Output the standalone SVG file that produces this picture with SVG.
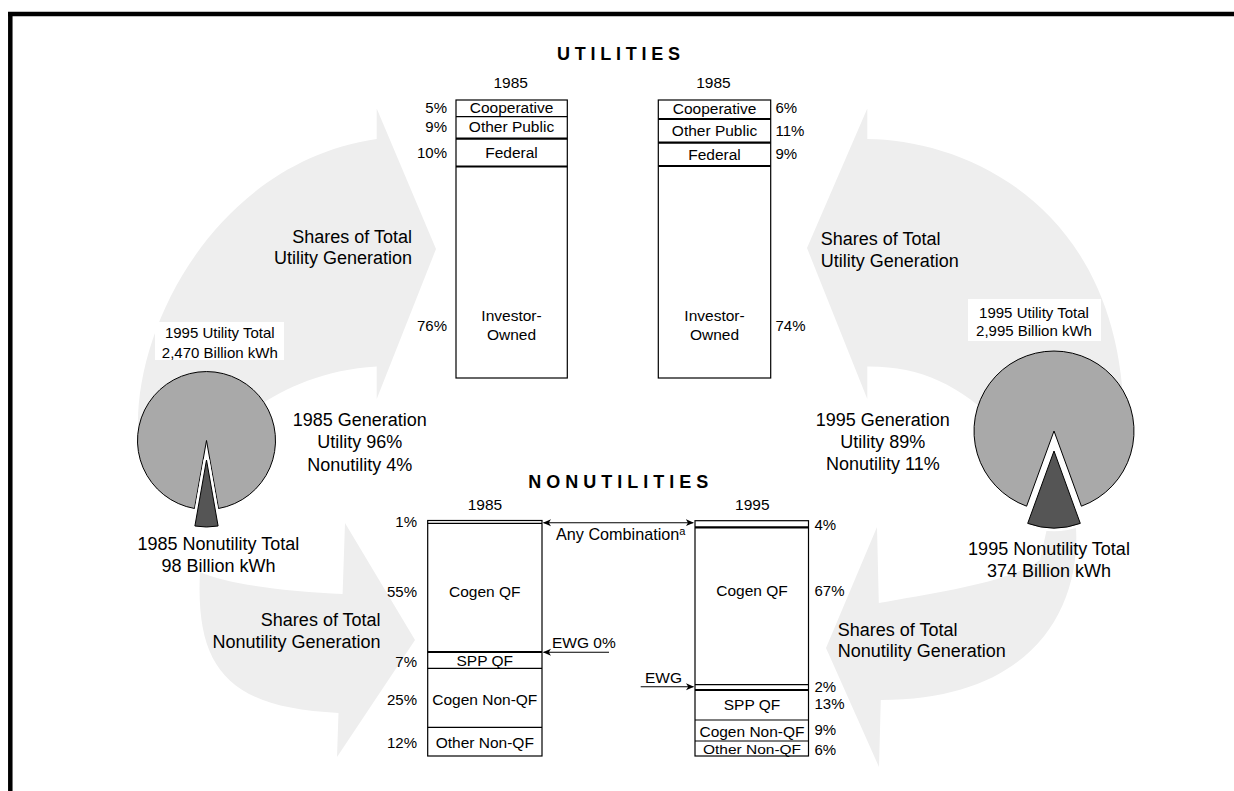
<svg xmlns="http://www.w3.org/2000/svg" width="1234" height="791" viewBox="0 0 1234 791">
  <defs>
    <style>
      .t { font-family: 'Liberation Sans', Arial, Helvetica, sans-serif; fill: #000; }
      .mid { text-anchor: middle; }
      .end { text-anchor: end; }
      .lbl { font-size: 15.5px; }
      .pct { font-size: 15px; }
      .big { font-size: 18px; }
      .box { font-size: 15px; }
      .title { font-size: 18px; font-weight: bold; }
      .flow { fill: #eeeeee; stroke: none; }
      .bar { fill: #fff; stroke: #000; stroke-width: 1.2; }
      .sep { stroke: #000; stroke-width: 1.2; fill: none; }
      .sep2 { stroke: #000; stroke-width: 2.2; fill: none; }
      .pie { fill: #a9a9a9; stroke: #000; stroke-width: 1; }
      .wedge { fill: #555555; stroke: #000; stroke-width: 1; }
      .halo { fill: none; stroke: #fff; stroke-width: 6; stroke-linejoin: miter; }
      .conn { stroke: #000; stroke-width: 1.1; fill: none; }
    </style>
    <marker id="head" viewBox="0 0 8 8" refX="7.5" refY="4" markerWidth="8" markerHeight="8" markerUnits="userSpaceOnUse" orient="auto-start-reverse">
      <path d="M0,0.5 L8,4 L0,7.5 L2.2,4 Z" fill="#000"/>
    </marker>
  </defs>

  <rect x="0" y="0" width="1234" height="791" fill="#fff"/>

  <!-- frame -->
  <g id="frame" stroke="#000" stroke-width="4.5">
    <line x1="8" y1="14" x2="1234" y2="14"/>
    <line x1="10.3" y1="12" x2="10.3" y2="791"/>
  </g>

  <!-- broad curved flow arrows -->
  <g id="flows">
    <path id="flow-utility-1985" class="flow" d="M376.7,139 C220,162 137,320 138,425 L245,415 C280,390 320,370 376.7,366.5 L376.7,399 L436,249 L376.7,108.4 Z"/>
    <path id="flow-nonutility-1985" class="flow" d="M200,572 C230,585 290,592 342.6,594 L345,523 L415,640 L337,757 L338.5,713 C230,708 195,670 200,572 Z"/>
    <path id="flow-utility-1995" class="flow" d="M867.3,139 C970,140 1126,210 1124,430 L1000,425 C960,385 920,366 867.3,366.5 L867.3,399 L807,248 L867.3,108.4 Z"/>
    <path id="flow-nonutility-1995" class="flow" d="M878.8,603 C940,592 1010,582 1040,560 L1050,515 L1075,515 C1085,600 1040,700 880.8,700 L879,767 L826,648 L877,527 Z"/>
  </g>

  <!-- 1985 generation pie -->
  <g id="pie-1985">
    <rect x="155" y="322" width="129" height="38" fill="#fff"/>
    <text class="t box mid" x="219.8" y="338">1995 Utility Total</text>
    <text class="t box mid" x="219.8" y="357.5">2,470 Billion kWh</text>
    <path class="pie" d="M206.5,440.5 L194.5,508.5 A69,69 0 1 1 218.5,508.5 Z"/>
    <path class="halo" d="M206.5,460 L218.1,526 A67,67 0 0 1 194.9,526 Z"/>
    <path class="wedge" d="M206.5,460 L218.1,526 A67,67 0 0 1 194.9,526 Z"/>
    <text class="t big mid" x="218.4" y="550">1985 Nonutility Total</text>
    <text class="t big mid" x="218.4" y="571.7">98 Billion kWh</text>
  </g>

  <!-- 1995 generation pie -->
  <g id="pie-1995">
    <rect x="968" y="299" width="133" height="42" fill="#fff"/>
    <text class="t box mid" x="1034" y="318">1995 Utility Total</text>
    <text class="t box mid" x="1034" y="336">2,995 Billion kWh</text>
    <path class="pie" d="M1054,431 L1026.6,506.2 A80,80 0 1 1 1081.4,506.2 Z"/>
    <path class="halo" d="M1054,451 L1080.3,523.4 A77,77 0 0 1 1027.7,523.4 Z"/>
    <path class="wedge" d="M1054,451 L1080.3,523.4 A77,77 0 0 1 1027.7,523.4 Z"/>
    <text class="t big mid" x="1049" y="555">1995 Nonutility Total</text>
    <text class="t big mid" x="1049" y="577">374 Billion kWh</text>
  </g>

  <!-- flow labels -->
  <g id="flow-labels">
    <text class="t big end" x="412" y="242.7">Shares of Total</text>
    <text class="t big end" x="412" y="264">Utility Generation</text>
    <text class="t big" x="820.7" y="245">Shares of Total</text>
    <text class="t big" x="820.7" y="266.7">Utility Generation</text>
    <text class="t big end" x="380.6" y="626">Shares of Total</text>
    <text class="t big end" x="380.6" y="647.7">Nonutility Generation</text>
    <text class="t big" x="837.7" y="636">Shares of Total</text>
    <text class="t big" x="837.7" y="657.3">Nonutility Generation</text>
  </g>

  <g id="gen-1985">
    <text class="t big mid" x="359.7" y="426">1985 Generation</text>
    <text class="t big mid" x="359.7" y="448.3">Utility 96%</text>
    <text class="t big mid" x="359.7" y="470.7">Nonutility 4%</text>
  </g>
  <g id="gen-1995">
    <text class="t big mid" x="882.8" y="426">1995 Generation</text>
    <text class="t big mid" x="882.8" y="448.3">Utility 89%</text>
    <text class="t big mid" x="882.8" y="470">Nonutility 11%</text>
  </g>

  <!-- section titles -->
  <g id="titles">
    <text class="t title" x="557" y="60" textLength="123" lengthAdjust="spacing">UTILITIES</text>
    <text class="t title" x="528.3" y="488.3" textLength="180" lengthAdjust="spacing">NONUTILITIES</text>
  </g>

  <!-- utility shares, left column -->
  <g id="utility-bar-left">
    <text class="t lbl mid" x="510.7" y="88.3">1985</text>
    <rect class="bar" x="456" y="100" width="111.3" height="278"/>
    <line class="sep" x1="456" y1="116.7" x2="567.3" y2="116.7"/>
    <line class="sep2" x1="456" y1="138.7" x2="567.3" y2="138.7"/>
    <line class="sep2" x1="456" y1="166.5" x2="567.3" y2="166.5"/>
    <text class="t lbl mid" x="511.5" y="112.7">Cooperative</text>
    <text class="t lbl mid" x="511.5" y="132">Other Public</text>
    <text class="t lbl mid" x="511.5" y="158.3">Federal</text>
    <text class="t lbl mid" x="511.5" y="320.5">Investor-</text>
    <text class="t lbl mid" x="511.5" y="339.5">Owned</text>
    <text class="t pct end" x="447" y="112.7">5%</text>
    <text class="t pct end" x="447" y="132">9%</text>
    <text class="t pct end" x="447" y="157.5">10%</text>
    <text class="t pct end" x="447" y="330.5">76%</text>
  </g>

  <!-- utility shares, right column -->
  <g id="utility-bar-right">
    <text class="t lbl mid" x="713.5" y="88.3">1985</text>
    <rect class="bar" x="658.3" y="100" width="112.4" height="278"/>
    <line class="sep2" x1="658.3" y1="119" x2="770.7" y2="119"/>
    <line class="sep2" x1="658.3" y1="142.7" x2="770.7" y2="142.7"/>
    <line class="sep2" x1="658.3" y1="166" x2="770.7" y2="166"/>
    <text class="t lbl mid" x="714.5" y="113.5">Cooperative</text>
    <text class="t lbl mid" x="714.5" y="135.5">Other Public</text>
    <text class="t lbl mid" x="714.5" y="159.5">Federal</text>
    <text class="t lbl mid" x="714.5" y="320.5">Investor-</text>
    <text class="t lbl mid" x="714.5" y="339.5">Owned</text>
    <text class="t pct" x="775.5" y="113">6%</text>
    <text class="t pct" x="775.5" y="135.5">11%</text>
    <text class="t pct" x="775.5" y="159">9%</text>
    <text class="t pct" x="775.5" y="330.5">74%</text>
  </g>

  <!-- nonutility shares, 1985 -->
  <g id="nonutility-bar-1985">
    <text class="t lbl mid" x="485" y="510">1985</text>
    <rect class="bar" x="427.7" y="520.5" width="114.3" height="235.5"/>
    <line class="sep" x1="427.7" y1="523.3" x2="542" y2="523.3"/>
    <line class="sep2" x1="427.7" y1="652" x2="542" y2="652"/>
    <line class="sep" x1="427.7" y1="668.3" x2="542" y2="668.3"/>
    <line class="sep" x1="427.7" y1="727.3" x2="542" y2="727.3"/>
    <text class="t lbl mid" x="484.8" y="596.5">Cogen QF</text>
    <text class="t lbl mid" x="484.8" y="666">SPP QF</text>
    <text class="t lbl mid" x="484.8" y="705">Cogen Non-QF</text>
    <text class="t lbl mid" x="484.8" y="747.5">Other Non-QF</text>
    <text class="t pct end" x="417" y="527">1%</text>
    <text class="t pct end" x="417" y="597.3">55%</text>
    <text class="t pct end" x="417" y="666.7">7%</text>
    <text class="t pct end" x="417" y="705">25%</text>
    <text class="t pct end" x="417" y="748.3">12%</text>
  </g>

  <!-- nonutility shares, 1995 -->
  <g id="nonutility-bar-1995">
    <text class="t lbl mid" x="752.3" y="510">1995</text>
    <rect class="bar" x="695" y="520.7" width="113.5" height="235.3"/>
    <line class="sep2" x1="695" y1="527.3" x2="808.5" y2="527.3"/>
    <line class="sep" x1="695" y1="684.7" x2="808.5" y2="684.7"/>
    <line class="sep2" x1="695" y1="690" x2="808.5" y2="690"/>
    <line class="sep" x1="695" y1="720" x2="808.5" y2="720"/>
    <line class="sep" x1="695" y1="741" x2="808.5" y2="741"/>
    <text class="t lbl mid" x="752" y="596">Cogen QF</text>
    <text class="t lbl mid" x="752" y="710">SPP QF</text>
    <text class="t lbl mid" x="752" y="736.5">Cogen Non-QF</text>
    <text class="t lbl mid" transform="translate(752 753.5) scale(1 0.8)" x="0" y="0">Other Non-QF</text>
    <text class="t pct" x="814.5" y="530">4%</text>
    <text class="t pct" x="814.5" y="596">67%</text>
    <text class="t pct" x="814.5" y="691.7">2%</text>
    <text class="t pct" x="814.5" y="709.3">13%</text>
    <text class="t pct" x="814.5" y="735">9%</text>
    <text class="t pct" x="814.5" y="755">6%</text>
  </g>

  <!-- pointers between the nonutility columns -->
  <g id="connectors">
    <line class="conn" x1="543.5" y1="522.7" x2="693.3" y2="522.7" marker-start="url(#head)" marker-end="url(#head)"/>
    <line class="conn" x1="609" y1="652.3" x2="543.5" y2="652.3" marker-end="url(#head)"/>
    <line class="conn" x1="640.7" y1="686.7" x2="693.5" y2="686.7" marker-end="url(#head)"/>
    <text class="t" font-size="16.2px" x="556" y="540">Any Combination<tspan font-size="11px" dy="-5.5">a</tspan></text>
    <text class="t lbl" x="552" y="648">EWG 0%</text>
    <text class="t lbl" x="645" y="682.7">EWG</text>
  </g>
</svg>
